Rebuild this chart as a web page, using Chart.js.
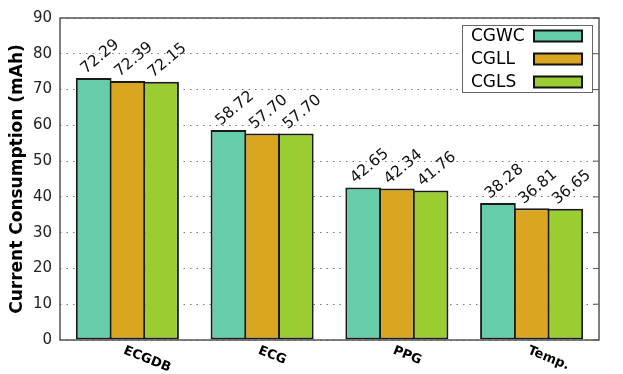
<!DOCTYPE html>
<html lang="en">
<head>
    <meta charset="UTF-8">
    <title>Current Consumption</title>
    <script src="https://cdn.jsdelivr.net/npm/chart.js"></script>
    <style>
        html, body { margin: 0; padding: 0; background: #fff; }
        #wrap { width: 623px; height: 374px; }
    </style>
</head>
<body>
    <div id="wrap"><canvas id="chart" width="623" height="374"></canvas></div>
    <script>
        // values
        const categories = ['ECGDB', 'ECG', 'PPG', 'Temp.'];
        const seriesNames = ['CGWC', 'CGLL', 'CGLS'];
        const cgwc = [73.2, 58.72, 42.65, 38.28];
        const cgll = [72.39, 57.70, 42.34, 36.81];
        const cgls = [72.15, 57.70, 41.76, 36.65];
        // printed labels (first bar is drawn a bit higher than its label says)
        const cgwcText = ['72.29', '58.72', '42.65', '38.28'];
        const cgllText = ['72.39', '57.70', '42.34', '36.81'];
        const cglsText = ['72.15', '57.70', '41.76', '36.65'];
        const yTicks = [0, 10, 20, 30, 40, 50, 60, 70, 80, 90];

        const colors = ['#66cdaa', '#daa520', '#9acd32'];
        const font = 'DejaVu Sans';

        const drawExtras = {
            id: 'drawExtras',
            afterDatasetsDraw(chart) {
                const ctx = chart.ctx;
                const a = chart.chartArea;
                const x = chart.scales.x, y = chart.scales.y;

                // value labels above the bars
                ctx.save();
                ctx.fillStyle = '#111';
                ctx.font = '15.5px "' + font + '"';
                ctx.textAlign = 'left';
                ctx.textBaseline = 'alphabetic';
                chart.data.datasets.forEach((ds, di) => {
                    const meta = chart.getDatasetMeta(di);
                    meta.data.forEach((bar, i) => {
                        ctx.save();
                        ctx.translate(bar.x - 8, bar.y - 4);
                        ctx.rotate(-40 * Math.PI / 180);
                        ctx.fillText(ds.texts[i], 0, 0);
                        ctx.restore();
                    });
                });
                ctx.restore();

                // frame
                ctx.save();
                ctx.strokeStyle = '#555';
                ctx.lineWidth = 1.5;
                ctx.strokeRect(a.left, a.top, a.right - a.left, a.bottom - a.top);
                // right side inward ticks
                ctx.lineWidth = 1;
                yTicks.forEach(v => {
                    const py = y.getPixelForValue(v);
                    ctx.beginPath();
                    ctx.moveTo(a.right - 6, py);
                    ctx.lineTo(a.right, py);
                    ctx.stroke();
                });
                ctx.restore();

                // rotated category labels
                ctx.save();
                ctx.fillStyle = '#000';
                ctx.font = 'bold 13px "' + font + '"';
                ctx.textAlign = 'left';
                ctx.textBaseline = 'top';
                categories.forEach((c, i) => {
                    ctx.save();
                    ctx.translate(x.getPixelForValue(i) - 1, a.bottom + 4);
                    ctx.rotate(22 * Math.PI / 180);
                    ctx.fillText(c, 0, 0);
                    ctx.restore();
                });
                ctx.restore();

                // legend box
                const lx = a.right - 137, ly = a.top + 7, lw = 130, lh = 67;
                ctx.save();
                ctx.fillStyle = '#fff';
                ctx.fillRect(lx, ly, lw, lh);
                ctx.strokeStyle = '#666';
                ctx.lineWidth = 1;
                ctx.strokeRect(lx + 0.5, ly + 0.5, lw, lh);
                ctx.font = '17px "' + font + '"';
                ctx.textAlign = 'left';
                ctx.textBaseline = 'middle';
                chart.data.datasets.forEach((ds, di) => {
                    const cy = ly + 11 + di * 23;
                    ctx.fillStyle = '#000';
                    ctx.fillText(ds.label, lx + 9, cy + 1);
                    ctx.fillStyle = ds.backgroundColor;
                    ctx.fillRect(lx + 72, cy - 5.5, 48, 11);
                    ctx.strokeStyle = '#111';
                    ctx.lineWidth = 2;
                    ctx.strokeRect(lx + 72, cy - 5.5, 48, 11);
                });
                ctx.restore();
            }
        };

        const texts = [cgwcText, cgllText, cglsText];
        const values = [cgwc, cgll, cgls];

        new Chart(document.getElementById('chart'), {
            type: 'bar',
            data: {
                labels: categories,
                datasets: seriesNames.map((name, i) => ({
                    label: name,
                    data: values[i],
                    texts: texts[i],
                    backgroundColor: colors[i],
                    borderColor: '#1a1a1a',
                    borderWidth: 2,
                    borderSkipped: false,
                    categoryPercentage: 0.75,
                    barPercentage: 1.06
                }))
            },
            options: {
                responsive: false,
                animation: false,
                layout: { padding: { left: 7, top: 18, right: 24, bottom: 34 } },
                plugins: { legend: { display: false }, tooltip: { enabled: false } },
                scales: {
                    x: {
                        ticks: { display: false },
                        grid: { display: false },
                        border: { display: false },
                        afterFit(s) { s.height = 0; }
                    },
                    y: {
                        min: 0,
                        max: 90,
                        afterBuildTicks(s) { s.ticks = yTicks.map(v => ({ value: v })); },
                        afterFit(s) { s.width = 53; },
                        ticks: {
                            color: '#222',
                            font: { family: font, size: 15 },
                            padding: 8
                        },
                        grid: { color: '#777', lineWidth: 1, drawTicks: false },
                        border: { display: false, dash: [1.5, 5] },
                        title: {
                            display: true,
                            text: 'Current Consumption (mAh)',
                            color: '#000',
                            font: { family: font, size: 17, weight: 'bold' },
                            padding: { top: 0, bottom: 0 }
                        }
                    }
                }
            },
            plugins: [drawExtras]
        });
    </script>
</body>
</html>
